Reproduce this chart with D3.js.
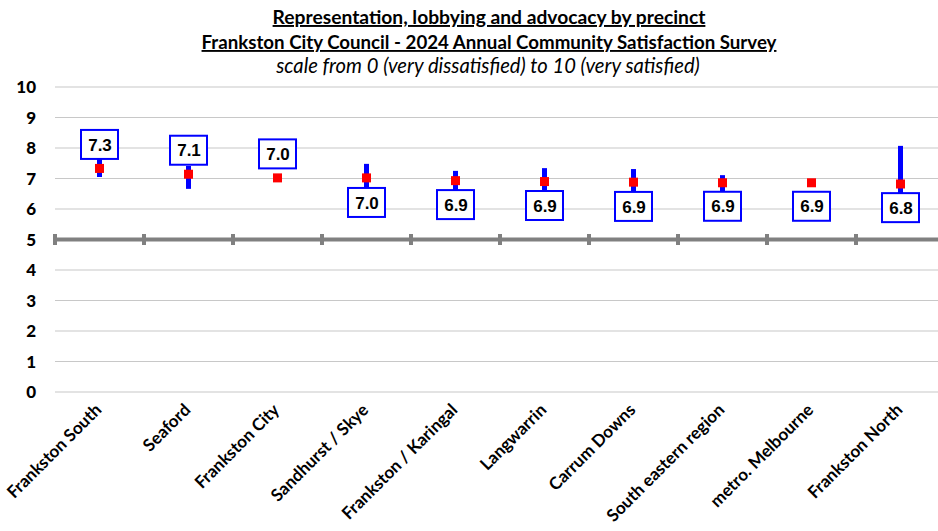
<!DOCTYPE html>
<html>
<head>
<meta charset="utf-8">
<script src="https://cdn.jsdelivr.net/npm/d3@7"></script>
<style>
  html, body { margin: 0; padding: 0; background: #fff; }
  svg { display: block; }
</style>
</head>
<body>
<svg id="chart" width="938" height="531"></svg>
<script>
// ---- data ----
const categories = ["Frankston South", "Seaford", "Frankston City", "Sandhurst / Skye",
  "Frankston / Karingal", "Langwarrin", "Carrum Downs", "South eastern region",
  "metro. Melbourne", "Frankston North"];
const means = [7.33, 7.14, 7.02, 7.02, 6.93, 6.90, 6.88, 6.86, 6.86, 6.82];
const lower = [7.05, 6.66, 6.96, 6.69, 6.62, 6.59, 6.56, 6.59, 6.83, 6.52];
const upper = [7.64, 7.41, 7.06, 7.48, 7.25, 7.34, 7.31, 7.11, 6.89, 8.07];
const labelValues = [7.3, 7.1, 7.0, 7.0, 6.9, 6.9, 6.9, 6.9, 6.9, 6.8];
const labelSide = ["above", "above", "above", "below", "below", "below", "below", "below", "below", "below"];
const yTicks = [0, 1, 2, 3, 4, 5, 6, 7, 8, 9, 10];
const titleLines = [
  "Representation, lobbying and advocacy by precinct",
  "Frankston City Council - 2024 Annual Community Satisfaction Survey"
];
const subtitle = "scale from 0 (very dissatisfied) to 10 (very satisfied)";
const referenceValue = 5;

// ---- setup ----
const svg = d3.select("#chart");
const W = 938;
const x = d3.scaleBand().domain(categories).range([55, 945]).padding(0);
const y = d3.scaleLinear().domain([0, 10]).range([392, 87]);
const cx = c => x(c) + x.bandwidth() / 2;
const labelFont = "Lato, 'Open Sans', sans-serif";

// ---- titles ----
function fitText(sel, target) {
  const n = sel.node();
  const len = n.getComputedTextLength();
  const fs = parseFloat(sel.attr("font-size"));
  sel.attr("font-size", (fs * target / len).toFixed(2));
}
const t1 = svg.append("text").attr("x", 489).attr("y", 24).attr("text-anchor", "middle")
  .attr("font-family", labelFont).attr("font-weight", "bold").attr("font-size", 16)
  .attr("text-decoration", "underline").attr("fill", "#000").text(titleLines[0]);
fitText(t1, 433);
const t2 = svg.append("text").attr("x", 489).attr("y", 49).attr("text-anchor", "middle")
  .attr("font-family", labelFont).attr("font-weight", "bold").attr("font-size", 16)
  .attr("text-decoration", "underline").attr("fill", "#000").text(titleLines[1]);
fitText(t2, 575);
const t3 = svg.append("text").attr("x", 488).attr("y", 73).attr("text-anchor", "middle")
  .attr("font-family", labelFont).attr("font-style", "italic").attr("font-size", 16)
  .attr("fill", "#000").text(subtitle);
fitText(t3, 424);

// ---- gridlines ----
svg.append("g").selectAll("line").data(yTicks.filter(d => d !== referenceValue)).join("line")
  .attr("x1", 55).attr("x2", W)
  .attr("y1", d => y(d)).attr("y2", d => y(d))
  .attr("stroke", "#c8c8c8").attr("stroke-width", 1.2);

// ---- y tick labels ----
svg.append("g").selectAll("text").data(yTicks).join("text")
  .attr("x", 36).attr("y", d => y(d)).attr("dy", "0.36em")
  .attr("text-anchor", "end")
  .attr("font-family", labelFont).attr("font-weight", "900").attr("font-size", 17)
  .attr("fill", "#000").text(d => d);

// ---- reference axis at 5 ----
const axisG = svg.append("g").attr("transform", `translate(0,${y(referenceValue)})`);
const axis = d3.axisBottom(x).tickSize(0).tickFormat("");
axisG.call(axis);
axisG.select(".domain").remove();
axisG.append("line").attr("x1", 53).attr("x2", W).attr("y1", 0).attr("y2", 0)
  .attr("stroke", "#808080").attr("stroke-width", 4);
axisG.selectAll("line.bnd").data(categories).join("line").attr("class", "bnd")
  .attr("x1", d => x(d)).attr("x2", d => x(d))
  .attr("y1", -5.5).attr("y2", 5.5)
  .attr("stroke", "#808080").attr("stroke-width", 4);

// ---- error bars ----
svg.append("g").selectAll("line").data(categories).join("line")
  .attr("x1", d => cx(d)).attr("x2", d => cx(d))
  .attr("y1", (d, i) => y(upper[i])).attr("y2", (d, i) => y(lower[i]))
  .attr("stroke", "#0000ff").attr("stroke-width", 5);

// ---- mean markers ----
svg.append("g").selectAll("rect").data(categories).join("rect")
  .attr("x", d => cx(d) - 4.5).attr("y", (d, i) => y(means[i]) - 4.5)
  .attr("width", 9).attr("height", 9).attr("fill", "#ff0000");

// ---- value label boxes ----
const bw = 37, bh = 29;
const lab = svg.append("g").selectAll("g").data(categories).join("g")
  .attr("transform", (d, i) => {
    let top;
    if (labelSide[i] === "above") {
      const bottom = Math.min(y(upper[i]), y(means[i]) - 9.5);
      top = bottom - bh;
    } else {
      top = Math.max(y(lower[i]), y(means[i]) + 9);
    }
    return `translate(${cx(d) - bw / 2},${top})`;
  });
lab.append("rect").attr("x", 0).attr("y", 0).attr("width", bw).attr("height", bh)
  .attr("fill", "#fff").attr("stroke", "#0000ff").attr("stroke-width", 2);
lab.append("text").attr("x", bw / 2 + 0.5).attr("y", bh / 2).attr("dy", "0.36em")
  .attr("text-anchor", "middle")
  .attr("font-family", "'Liberation Sans', Arial, sans-serif").attr("font-weight", "bold")
  .attr("font-size", 17).attr("fill", "#000")
  .text((d, i) => labelValues[i].toFixed(1));

// ---- category labels ----
const catLabels = svg.append("g").selectAll("text").data(categories).join("text")
  .attr("transform", d => `translate(${cx(d) + 3},${411}) rotate(-45)`)
  .attr("text-anchor", "end")
  .attr("font-family", labelFont).attr("font-weight", "bold").attr("font-size", 15)
  .attr("fill", "#000").text(d => d);
// size the labels so that the first one matches the reference length
const firstLen = catLabels.node().getComputedTextLength();
catLabels.attr("font-size", (15 * 125 / firstLen).toFixed(2));
</script>
</body>
</html>
